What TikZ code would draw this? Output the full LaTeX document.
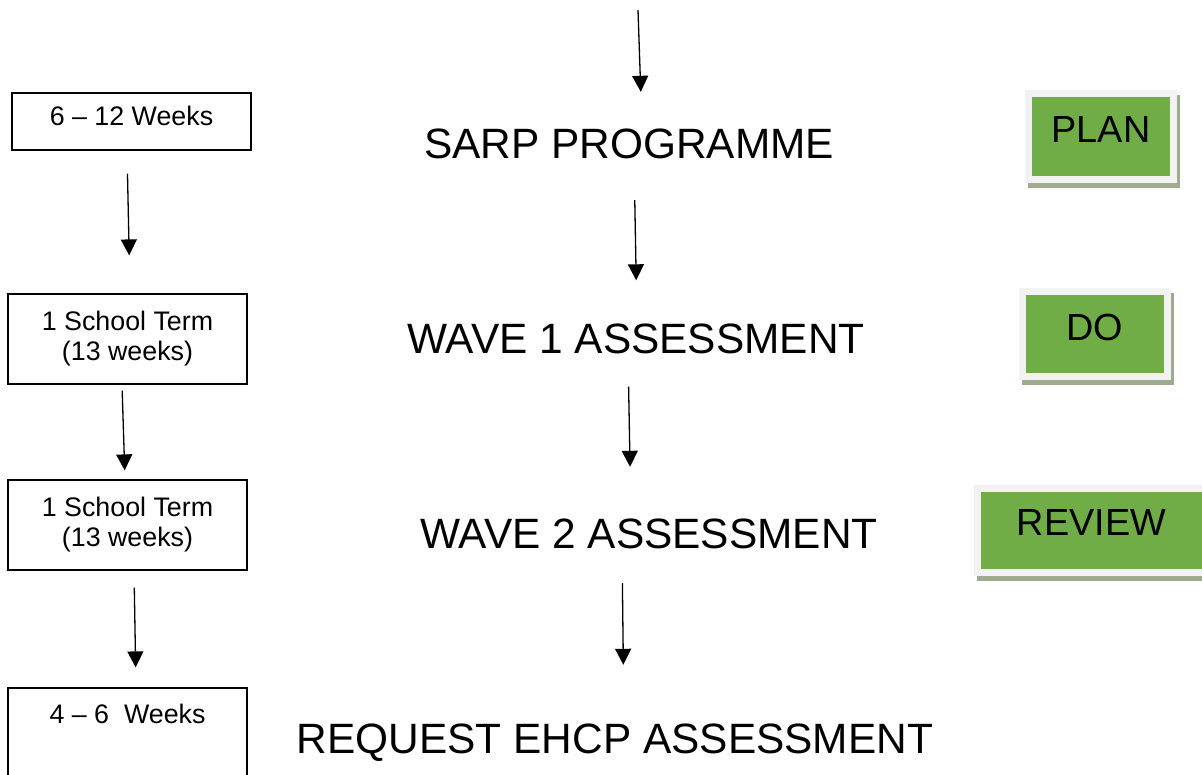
\documentclass[tikz,border=0pt]{standalone}
\usepackage{fontspec}
\setmainfont{Liberation Sans}
\usepackage{tikz}
\usetikzlibrary{arrows.meta,shadows,positioning,calc}
\definecolor{BOXGREEN}{RGB}{112,173,71}
\definecolor{FRAMEGREY}{RGB}{242,242,242}
\definecolor{SHADOWGREEN}{RGB}{157,172,142}
\tikzstyle{TITLE} = [inner sep=0pt, text height=30pt, text depth=0pt, font=\fontsize{42.4}{50}\selectfont]
\tikzstyle{TIMEBOX} = [rectangle, draw, line width=1.2pt, inner sep=0pt, minimum width=239pt, align=center, font=\fontsize{26.8}{30}\selectfont]
\tikzstyle{STAGE} = [rectangle, draw=FRAMEGREY, line width=7pt, fill=BOXGREEN, inner sep=0pt, font=\fontsize{37.8}{40}\selectfont, drop shadow={shadow xshift=3pt, shadow yshift=-5pt, fill=SHADOWGREEN, draw=SHADOWGREEN, line width=7pt, opacity=1}]
\tikzstyle{LINE} = [draw, line width=1.3pt, -{Triangle[width=16pt,length=16pt]}]

\begin{document}
\begin{tikzpicture}[x=1pt, y=-1pt]
\useasboundingbox (0,0) rectangle (1202,774);
% Place nodes
\node [TITLE] (sarp) at (629,143) {SARP PROGRAMME};
\node [TITLE] (wave1) at (636,338.5) {WAVE 1 ASSESSMENT};
\node [TITLE] (wave2) at (649,533) {WAVE 2 ASSESSMENT};
\node [TITLE] (request) at (615,738) {REQUEST EHCP ASSESSMENT};
\node [TIMEBOX, text height=32pt, text depth=25pt] (t1) at (131.5,121.5) {6 – 12 Weeks};
\node [TIMEBOX, minimum height=90pt] (t2) at (127.5,339) {1 School Term\\(13 weeks)};
\node [TIMEBOX, minimum height=90pt] (t3) at (127.5,525) {1 School Term\\(13 weeks)};
\node [TIMEBOX, text height=35pt, text depth=77pt] (t4) at (127.5,744) {4 – 6 \ Weeks};
\node [STAGE, minimum width=145pt, text height=48.5pt, text depth=37.5pt] (plan) at (1101,136.5) {PLAN};
\node [STAGE, minimum width=145pt, text height=48.5pt, text depth=36.5pt] (do) at (1095,334) {DO};
\node [STAGE, minimum width=228pt, text height=46.5pt, text depth=37.5pt] (review) at (1091.5,530.5) {REVIEW};
\coordinate (entry) at (638,10);
% LINES and ARROWS
\path [LINE, shorten >=36pt] (entry) -- ([xshift=13pt]sarp.north);
\path [LINE, shorten <=42pt, shorten >=43pt] ([xshift=5pt]sarp.south) -- ([xshift=1pt]wave1.north);
\path [LINE, shorten <=33pt, shorten >=51pt] ([xshift=-8pt]wave1.south) -- ([xshift=-18pt]wave2.north);
\path [LINE, shorten <=35pt, shorten >=58pt] ([xshift=-27pt]wave2.south) -- ([xshift=9pt]request.north);
\path [LINE, shorten <=23pt, shorten >=38pt] ([xshift=-4.5pt]t1.south) -- ([xshift=2.5pt]t2.north);
\path [LINE, shorten <=6pt, shorten >=9pt] ([xshift=-5.5pt]t2.south) -- ([xshift=-2.5pt]t3.north);
\path [LINE, shorten <=17pt, shorten >=20pt] ([xshift=6.5pt]t3.south) -- ([xshift=8.5pt]t4.north);
\end{tikzpicture}
\end{document}
